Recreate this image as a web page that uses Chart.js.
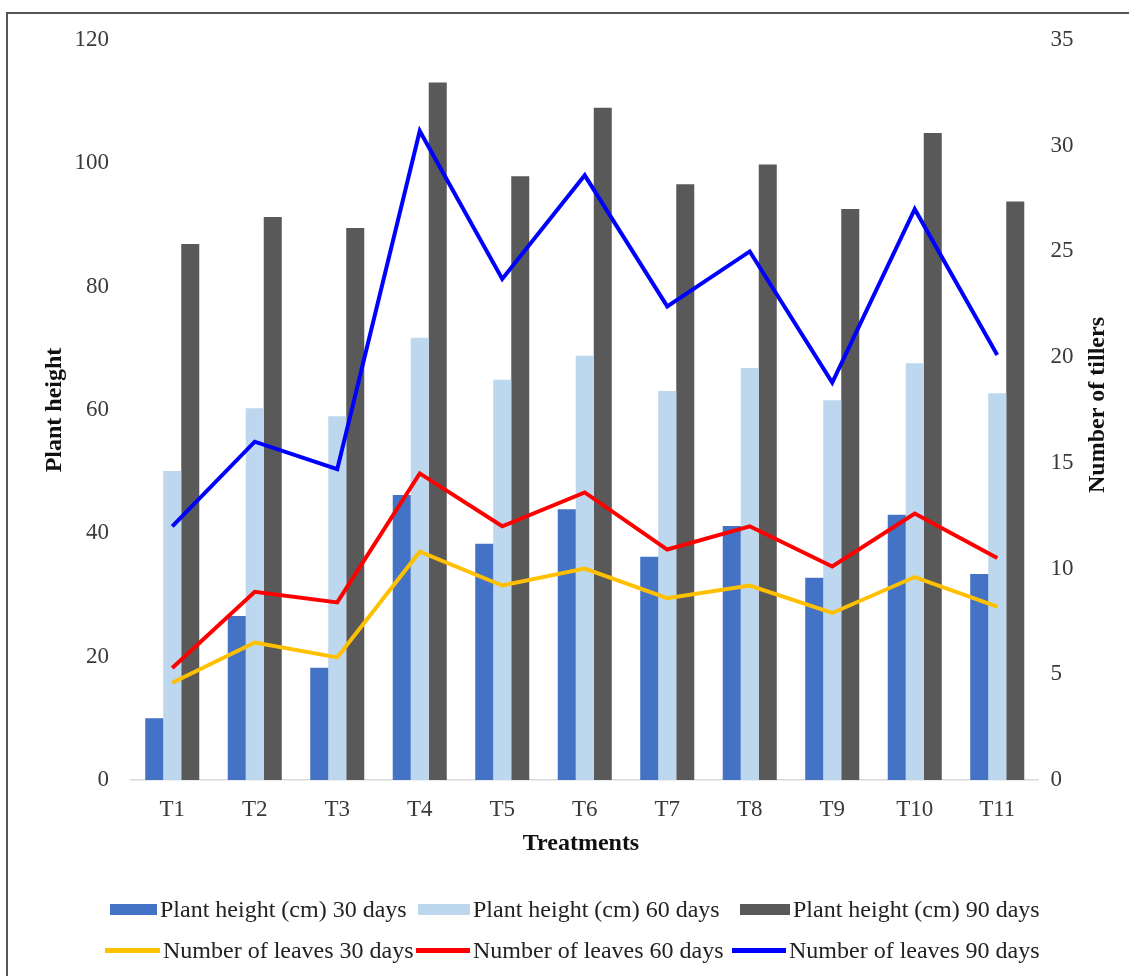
<!DOCTYPE html>
<html>
<head>
<meta charset="utf-8">
<title>Plant height and number of leaves by treatment</title>
<script src="https://cdn.jsdelivr.net/npm/chart.js@4/dist/chart.umd.min.js"></script>
<style>
  html, body { margin: 0; padding: 0; background: #fff; }
  #wrap { position: relative; width: 1129px; height: 976px; overflow: hidden; }
  #frame { position: absolute; left: 6px; top: 12px; width: 1200px; height: 1100px;
           border-left: 2px solid #555; border-top: 2px solid #555; box-sizing: border-box; }
  canvas { position: absolute; left: 0; top: 0; }
  .lg { position: absolute; display: flex; align-items: center; white-space: nowrap;
        font-family: "Liberation Serif", "Times New Roman", serif; font-size: 24px; color: #222; }
  .lg .sw { display: inline-block; margin-right: 3px; }
</style>
</head>
<body>
<div id="wrap">
  <div id="frame"></div>
  <canvas id="chart" width="1129" height="976"></canvas>
  <div id="legend"></div>
</div>
<script>
// Treatments on the x axis
const categories = ['T1', 'T2', 'T3', 'T4', 'T5', 'T6', 'T7', 'T8', 'T9', 'T10', 'T11'];

// Plant height (cm), left axis
const height30 = [10.0, 26.6, 18.2, 46.2, 38.3, 43.9, 36.2, 41.2, 32.8, 43.0, 33.4];
const height60 = [50.1, 60.3, 59.0, 71.7, 64.9, 68.8, 63.1, 66.8, 61.6, 67.6, 62.7];
const height90 = [86.9, 91.3, 89.5, 113.1, 97.9, 109.0, 96.6, 99.8, 92.6, 104.9, 93.8];

// Number of leaves, right axis
const leaves30 = [4.6, 6.5, 5.8, 10.8, 9.2, 10.0, 8.6, 9.2, 7.9, 9.6, 8.2];
const leaves60 = [5.3, 8.9, 8.4, 14.5, 12.0, 13.6, 10.9, 12.0, 10.1, 12.6, 10.5];
const leaves90 = [12.0, 16.0, 14.7, 30.7, 23.7, 28.6, 22.4, 25.0, 18.8, 27.0, 20.1];

// Axis ranges and titles
const leftAxis = { min: 0, max: 120, step: 20, title: 'Plant height' };
const rightAxis = { min: 0, max: 35, step: 5, title: 'Number of tillers' };
const xTitle = 'Treatments';

const seriesNames = [
  'Plant height (cm) 30 days', 'Plant height (cm) 60 days', 'Plant height (cm) 90 days',
  'Number of leaves 30 days', 'Number of leaves 60 days', 'Number of leaves 90 days'
];

const COLORS = ['#4472C4', '#BDD7EE', '#595959', '#FFC000', '#FF0000', '#0000FF'];
const SERIF = '"Liberation Serif", "Times New Roman", serif';

const barDs = (label, data, color) => ({
  type: 'bar', label, data, backgroundColor: color, borderWidth: 0,
  yAxisID: 'y', order: 2, categoryPercentage: 0.655, barPercentage: 1.0
});
const lineDs = (label, data, color) => ({
  type: 'line', label, data, borderColor: color, backgroundColor: color,
  borderWidth: 4, pointRadius: 0, tension: 0, yAxisID: 'y2', order: 1,
  borderJoinStyle: 'miter', borderCapStyle: 'butt'
});

// Axis titles drawn on the canvas: both vertical titles read bottom-to-top
const titlesPlugin = {
  id: 'axisTitles',
  afterDraw(chart) {
    const ctx = chart.ctx;
    ctx.save();
    ctx.fillStyle = '#111';
    ctx.font = 'bold 24px ' + SERIF;
    ctx.textAlign = 'center';
    ctx.textBaseline = 'middle';
    ctx.fillText(xTitle, 581, 844);
    ctx.translate(55, 410);
    ctx.rotate(-Math.PI / 2);
    ctx.fillText(leftAxis.title, 0, 0);
    ctx.restore();
    ctx.save();
    ctx.fillStyle = '#111';
    ctx.font = 'bold 24px ' + SERIF;
    ctx.textAlign = 'center';
    ctx.textBaseline = 'middle';
    ctx.translate(1098, 405);
    ctx.rotate(-Math.PI / 2);
    ctx.fillText(rightAxis.title, 0, 0);
    ctx.restore();
  }
};

const tickFont = { family: SERIF, size: 23 };
const tickColor = '#3a3a3a';

new Chart(document.getElementById('chart'), {
  data: {
    labels: categories,
    datasets: [
      barDs(seriesNames[0], height30, COLORS[0]),
      barDs(seriesNames[1], height60, COLORS[1]),
      barDs(seriesNames[2], height90, COLORS[2]),
      lineDs(seriesNames[3], leaves30, COLORS[3]),
      lineDs(seriesNames[4], leaves60, COLORS[4]),
      lineDs(seriesNames[5], leaves90, COLORS[5])
    ]
  },
  options: {
    responsive: false,
    animation: false,
    devicePixelRatio: 1,
    layout: { padding: { top: 40, bottom: 100, left: 0, right: 0 } },
    plugins: { legend: { display: false }, tooltip: { enabled: false } },
    scales: {
      x: {
        offset: true,
        grid: { display: false, drawTicks: false },
        border: { display: true, color: '#D9D9D9', width: 1.5 },
        ticks: { font: tickFont, color: tickColor, padding: 16, maxRotation: 0 },
        afterFit(s) { s.height = 96; }
      },
      y: {
        position: 'left',
        min: leftAxis.min, max: leftAxis.max,
        grid: { display: false, drawTicks: false },
        border: { display: false },
        ticks: { stepSize: leftAxis.step, font: tickFont, color: tickColor, padding: 22 },
        afterFit(s) { s.width = 131; }
      },
      y2: {
        position: 'right',
        min: rightAxis.min, max: rightAxis.max,
        grid: { display: false, drawTicks: false },
        border: { display: false },
        ticks: { stepSize: rightAxis.step, font: tickFont, color: tickColor, padding: 12 },
        afterFit(s) { s.width = 90.5; }
      }
    }
  },
  plugins: [titlesPlugin]
});

// Two-row legend under the chart
const legendItems = [
  { x: 110, y: 909, w: 47, h: 11 },
  { x: 418, y: 909, w: 52, h: 11 },
  { x: 740, y: 909, w: 50, h: 11 },
  { x: 105, y: 950, w: 55, h: 5 },
  { x: 416, y: 950, w: 54, h: 5 },
  { x: 732, y: 950, w: 54, h: 5 }
];
const legendEl = document.getElementById('legend');
legendItems.forEach((it, i) => {
  const item = document.createElement('div');
  item.className = 'lg';
  item.style.left = it.x + 'px';
  item.style.top = (it.y - 15) + 'px';
  item.style.height = '30px';
  const sw = document.createElement('span');
  sw.className = 'sw';
  sw.style.width = it.w + 'px';
  sw.style.height = it.h + 'px';
  sw.style.background = COLORS[i];
  const tx = document.createElement('span');
  tx.textContent = seriesNames[i];
  item.appendChild(sw);
  item.appendChild(tx);
  legendEl.appendChild(item);
});
</script>
</body>
</html>
